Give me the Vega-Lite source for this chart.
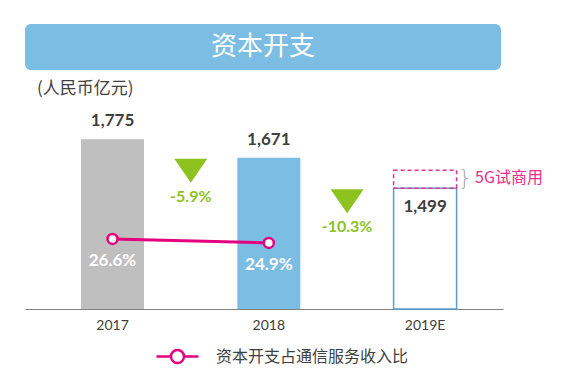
{
  "$schema": "https://vega.github.io/schema/vega-lite/v6.json",
  "padding": {"left": 25, "top": 24, "right": 10, "bottom": 6},
  "background": "#ffffff",
  "config": {
    "font": "Lato, Noto Sans CJK SC",
    "view": {"stroke": null},
    "locale": {"number": {"decimal": ".", "thousands": ",", "grouping": [3], "currency": ["$", ""], "minus": "-"}}
  },
  "datasets": {
    "capex": [
      {"year": "2017", "capex": 1775, "ratio": 0.266, "change": null, "trial": null, "note": null},
      {"year": "2018", "capex": 1671, "ratio": 0.249, "change": -0.059, "trial": null, "note": null},
      {"year": "2019E", "capex": 1499, "ratio": null, "change": -0.103, "trial": 1600, "note": "5G试商用"}
    ]
  },
  "spacing": 10,
  "vconcat": [
    {
      "width": 476,
      "height": 46,
      "view": {"fill": "#7bbde3", "stroke": null, "cornerRadius": 6},
      "data": {"values": [{"t": "资本开支"}]},
      "mark": {"type": "text", "color": "#ffffff", "fontSize": 26, "font": "Noto Sans CJK SC", "fontWeight": 400, "baseline": "middle", "align": "center"},
      "encoding": {"text": {"field": "t"}}
    },
    {
      "width": 478,
      "height": 208,
      "title": {"text": "(人民币亿元)", "anchor": "start", "fontSize": 17, "fontWeight": "normal", "color": "#404040", "font": "Noto Sans CJK SC", "dx": 12, "offset": 3},
      "data": {"name": "capex"},
      "encoding": {
        "x": {
          "field": "year", "type": "nominal", "sort": null,
          "scale": {"paddingInner": 0.597, "paddingOuter": 0.3277, "align": 0.547},
          "axis": {"title": null, "labelAngle": 0, "ticks": false, "domainColor": "#808080", "domainWidth": 1.2, "labelFontSize": 14, "labelColor": "#404040", "labelPadding": 9, "labelFont": "Lato"}
        }
      },
      "layer": [
        {
          "encoding": {
            "y": {"field": "capex", "type": "quantitative", "scale": {"domain": [820, 1990], "zero": false, "clamp": true}, "axis": null}
          },
          "layer": [
            {
              "mark": {"type": "bar", "strokeWidth": 1.5},
              "encoding": {
                "y2": {"datum": 820},
                "fill": {"field": "year", "type": "nominal", "scale": {"domain": ["2017", "2018", "2019E"], "range": ["#bfbfbf", "#7bbde3", "#ffffff"]}, "legend": null},
                "stroke": {"condition": {"test": "datum.year === '2019E'", "value": "#5b9bd5"}, "value": "transparent"}
              }
            },
            {
              "transform": [{"filter": "datum.trial != null"}],
              "mark": {"type": "bar", "fill": "transparent", "stroke": "#e8308a", "strokeWidth": 1.5, "strokeDash": [4, 3]},
              "encoding": {"y": {"field": "trial", "type": "quantitative"}, "y2": {"field": "capex"}}
            },
            {
              "transform": [{"filter": "datum.trial != null"}],
              "mark": {"type": "text", "text": "}", "fontSize": 22, "font": "DejaVu Sans", "fontWeight": 200, "color": "#a6a6a6", "dx": 40, "dy": 8, "baseline": "middle"},
              "encoding": {"y": {"field": "trial", "type": "quantitative"}}
            },
            {
              "transform": [{"filter": "datum.trial != null"}],
              "mark": {"type": "text", "fontSize": 16, "font": "Noto Sans CJK SC", "color": "#e8308a", "align": "left", "dx": 50, "dy": 8, "baseline": "middle"},
              "encoding": {"y": {"field": "trial", "type": "quantitative"}, "text": {"field": "note"}}
            },
            {
              "transform": [{"filter": "datum.year !== '2019E'"}],
              "mark": {"type": "text", "fontSize": 17, "fontWeight": "bold", "color": "#404040", "baseline": "bottom", "dy": -9},
              "encoding": {"text": {"field": "capex", "type": "quantitative", "format": ",d"}}
            },
            {
              "transform": [{"filter": "datum.year === '2019E'"}],
              "mark": {"type": "text", "fontSize": 17, "fontWeight": "bold", "color": "#404040", "baseline": "middle", "dy": 19},
              "encoding": {"text": {"field": "capex", "type": "quantitative", "format": ",d"}}
            },
            {
              "transform": [{"filter": "datum.change != null"}],
              "mark": {"type": "point", "shape": "M-5.727,0.058L-3.727,0.058L-4.727,1.518Z", "filled": true, "fill": "#8dc21f", "opacity": 1, "size": 1089, "strokeWidth": 0},
              "encoding": {}
            },
            {
              "transform": [{"filter": "datum.change != null"}],
              "mark": {"type": "text", "fontSize": 16, "fontWeight": "bold", "color": "#8dc21f", "baseline": "middle", "dx": -78, "dy": 39},
              "encoding": {"text": {"field": "change", "type": "quantitative", "format": ".1%"}}
            }
          ]
        },
        {
          "transform": [{"filter": "datum.ratio != null"}],
          "encoding": {
            "y": {"field": "ratio", "type": "quantitative", "scale": {"domain": [-0.032, 0.852], "zero": false}, "axis": null}
          },
          "layer": [
            {
              "mark": {"type": "line", "strokeWidth": 3},
              "encoding": {
                "stroke": {"datum": "资本开支占通信服务收入比", "type": "nominal", "scale": {"range": ["#e4007f"]},
                  "legend": {"title": null, "orient": "none", "legendX": 130, "legendY": 310, "padding": 0, "symbolType": "M-1,0L-0.31,0M0.31,0L1,0M-0.31,0A0.31,0.31 0 1,0 0.31,0A0.31,0.31 0 1,0 -0.31,0", "symbolSize": 1764, "symbolStrokeWidth": 2.5, "symbolFillColor": "#ffffff", "labelFontSize": 16, "labelColor": "#404040", "labelFont": "Noto Sans CJK SC", "labelOffset": 16, "labelLimit": 400}}
              }
            },
            {
              "mark": {"type": "point", "shape": "circle", "filled": true, "fill": "#ffffff", "stroke": "#e4007f", "strokeWidth": 2.5, "size": 100, "opacity": 1},
              "encoding": {}
            },
            {
              "mark": {"type": "text", "fontSize": 17, "fontWeight": "bold", "color": "#ffffff", "baseline": "middle", "dy": 22},
              "encoding": {"text": {"field": "ratio", "type": "quantitative", "format": ".1%"}}
            }
          ]
        }
      ],
      "resolve": {"scale": {"y": "independent"}}
    }
  ]
}
